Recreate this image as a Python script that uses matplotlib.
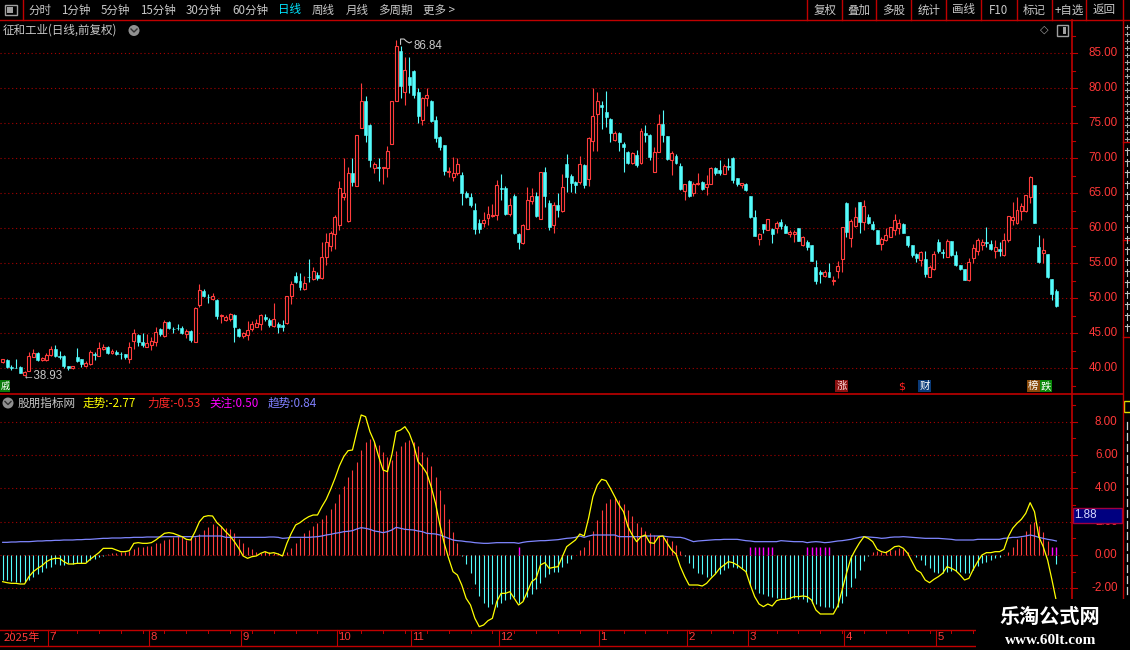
import numpy as np
import matplotlib
matplotlib.use("Agg")
import matplotlib.pyplot as plt
from matplotlib.patches import Rectangle, Ellipse
from matplotlib.lines import Line2D
from matplotlib.transforms import blended_transform_factory

plt.rcParams['font.family'] = ['Noto Sans CJK SC', 'DejaVu Sans']

# ----------------------------------------
# data (daily candles, 242 bars)
# ----------------------------------------
OPEN = [
    40.9, 41.2, 40.2, 40.1, 40.2, 39.1, 39.65, 41.6, 42.2, 41.2,
    41.2, 41.9, 42.8, 41.8, 41.8, 40.3, 40.0, 41.6, 41.3, 40.4,
    40.6, 42.05, 41.8, 42.8, 43.0, 42.2, 42.35, 42.05, 42.0, 41.4,
    43.95, 44.75, 43.8, 43.1, 43.3, 43.8, 45.55, 44.6, 46.55, 45.65,
    45.8, 45.8, 44.85, 45.3, 43.8, 49.05, 51.1, 50.25, 49.85, 49.75,
    47.5, 46.9, 47.1, 47.6, 45.6, 44.65, 44.75, 45.6, 45.95, 46.4,
    47.4, 46.9, 46.05, 46.4, 46.2, 46.5, 50.3, 53.2, 52.5, 51.3,
    53.1, 52.7, 53.4, 52.85, 55.95, 57.5, 59.2, 60.5, 64.5, 61.0,
    67.85, 66.1, 74.4, 78.2, 74.75, 68.6, 68.7, 68.6, 68.6, 72.1,
    78.2, 85.3, 79.5, 81.6, 82.5, 79.4, 75.5, 78.6, 78.2, 75.5,
    73.0, 71.9, 68.1, 67.4, 67.85, 67.6, 65.1, 64.5, 62.6, 60.8,
    60.8, 61.5, 61.8, 61.9, 65.7, 65.8, 62.0, 64.6, 59.2, 57.95,
    59.9, 63.95, 64.65, 61.4, 68.0, 63.65, 60.5, 63.3, 62.5, 69.2,
    67.5, 66.6, 66.55, 69.05, 67.0, 72.5, 76.3, 77.6, 76.6, 75.6,
    72.6, 73.6, 72.0, 70.85, 69.3, 70.5, 69.3, 73.6, 73.35, 68.1,
    70.95, 74.85, 73.2, 69.75, 70.4, 68.95, 65.4, 66.75, 65.0, 66.35,
    66.6, 65.95, 66.4, 68.57, 68.3, 67.75, 68.9, 70.1, 67.15, 66.2,
    66.4, 64.6, 61.6, 58.5, 60.6, 59.75, 59.9, 60.0, 60.9, 60.4,
    59.2, 59.15, 60.0, 57.6, 58.1, 57.6, 54.5, 53.7, 53.2, 53.75,
    52.45, 53.95, 55.6, 63.6, 58.6, 60.35, 63.8, 60.95, 61.6, 60.6,
    59.7, 57.75, 58.3, 58.8, 59.7, 60.0, 60.6, 58.9, 57.6, 56.4,
    55.5, 55.6, 53.1, 54.2, 58.0, 56.55, 55.95, 58.2, 56.2, 54.75,
    54.2, 52.6, 55.8, 56.8, 57.6, 58.0, 57.75, 56.75, 57.05, 56.2,
    58.3, 61.2, 60.7, 62.5, 62.5, 64.5, 66.2, 57.4, 56.5, 56.4,
    52.7, 51.05,
]
HIGH = [
    41.4, 41.4, 40.5, 41.3, 40.4, 39.6, 42.3, 42.8, 42.4, 41.6,
    42.2, 43.2, 43.3, 42.5, 41.9, 40.3, 40.4, 42.85, 41.4, 41.0,
    42.6, 42.4, 43.7, 43.5, 43.2, 42.8, 42.6, 42.4, 42.1, 43.7,
    45.6, 44.9, 45.0, 44.9, 44.5, 45.85, 45.7, 46.9, 46.8, 45.95,
    46.3, 46.0, 45.6, 45.5, 48.7, 52.1, 51.3, 50.6, 50.7, 49.85,
    47.75, 47.6, 47.85, 47.75, 45.7, 45.2, 46.7, 46.8, 47.1, 47.75,
    47.75, 47.15, 49.3, 46.65, 46.9, 50.4, 52.5, 53.7, 53.6, 53.2,
    55.57, 54.5, 53.7, 58.1, 59.3, 59.6, 61.9, 66.7, 70.0, 68.8,
    70.1, 73.3, 80.7, 78.9, 74.85, 69.5, 70.1, 68.8, 71.75, 78.2,
    86.84, 86.0, 84.5, 84.5, 82.6, 80.1, 78.8, 80.0, 78.3, 76.0,
    73.2, 71.9, 68.7, 70.2, 70.0, 68.1, 65.4, 65.1, 63.6, 61.4,
    62.4, 63.2, 63.5, 66.9, 67.8, 66.0, 64.3, 64.9, 59.4, 60.6,
    65.95, 65.7, 65.2, 68.0, 68.8, 64.0, 63.8, 65.1, 67.75, 70.6,
    67.75, 66.7, 70.3, 69.2, 73.0, 80.0, 79.5, 78.2, 79.6, 75.7,
    73.9, 73.7, 72.3, 71.1, 70.95, 71.2, 74.4, 74.75, 73.5, 71.6,
    76.3, 76.9, 73.2, 71.1, 70.6, 69.4, 66.4, 66.9, 66.6, 67.95,
    66.7, 67.6, 68.7, 68.7, 69.8, 69.2, 70.0, 70.2, 67.15, 66.4,
    66.5, 64.6, 62.6, 59.3, 60.6, 61.4, 60.0, 61.1, 61.4, 60.6,
    59.75, 59.75, 60.1, 58.9, 58.4, 57.6, 55.5, 54.05, 54.05, 55.0,
    53.2, 55.4, 60.2, 63.7, 61.3, 63.1, 63.8, 64.05, 62.05, 61.1,
    59.75, 58.8, 60.0, 60.15, 62.05, 61.3, 60.7, 58.9, 57.6, 56.5,
    56.7, 56.7, 54.75, 56.7, 58.5, 57.0, 58.5, 58.2, 56.75, 54.75,
    54.2, 55.7, 57.75, 58.6, 58.5, 60.15, 58.3, 58.4, 58.1, 59.3,
    61.75, 63.7, 64.5, 63.6, 64.75, 67.5, 66.2, 59.05, 58.6, 56.4,
    52.7, 51.4,
]
LOW = [
    40.8, 40.1, 39.7, 40.0, 39.4, 38.93, 39.6, 41.6, 41.1, 41.1,
    41.1, 41.8, 41.6, 41.4, 40.1, 39.8, 39.95, 40.85, 40.2, 40.2,
    40.5, 41.2, 41.7, 42.6, 42.0, 42.1, 41.9, 41.3, 41.4, 40.7,
    42.7, 43.2, 43.0, 43.0, 42.6, 43.2, 44.6, 44.5, 45.6, 45.0,
    45.5, 44.9, 44.4, 43.8, 43.8, 48.7, 50.2, 49.4, 49.8, 47.1,
    46.5, 46.8, 46.8, 43.8, 44.5, 44.4, 44.0, 45.3, 45.85, 45.5,
    46.7, 45.95, 45.95, 45.1, 45.3, 46.4, 49.2, 52.15, 51.2, 51.2,
    52.4, 52.6, 52.6, 52.7, 54.7, 56.7, 57.0, 59.7, 64.0, 60.95,
    66.0, 66.0, 74.3, 72.4, 68.7, 67.95, 66.7, 66.3, 67.4, 72.0,
    78.2, 78.6, 77.6, 79.3, 78.6, 75.0, 74.8, 77.5, 75.2, 72.4,
    71.2, 67.6, 67.4, 66.7, 67.6, 63.3, 64.3, 63.1, 59.15, 59.3,
    60.2, 60.5, 61.65, 61.2, 64.0, 61.9, 61.75, 59.2, 57.1, 57.8,
    59.85, 63.5, 61.65, 61.4, 63.1, 59.75, 59.4, 61.65, 62.4, 65.2,
    65.2, 65.1, 66.4, 65.7, 66.05, 71.1, 71.1, 74.2, 74.5, 72.4,
    72.5, 71.1, 68.1, 69.2, 69.2, 68.7, 69.2, 72.4, 69.75, 68.0,
    70.85, 72.4, 69.75, 67.6, 69.2, 65.5, 64.05, 64.5, 64.65, 66.2,
    65.5, 64.8, 66.3, 67.6, 67.6, 67.7, 68.3, 66.5, 66.1, 65.8,
    65.3, 61.5, 58.9, 57.6, 59.4, 59.7, 57.9, 59.4, 59.9, 59.3,
    58.8, 58.1, 58.15, 57.5, 56.9, 55.3, 52.05, 52.15, 53.0, 53.0,
    51.9, 52.85, 53.7, 58.7, 57.4, 60.15, 59.3, 59.7, 60.6, 59.75,
    57.7, 56.9, 58.2, 58.7, 59.05, 59.2, 59.3, 57.4, 55.95, 55.2,
    54.6, 53.1, 53.0, 54.05, 56.5, 55.7, 55.85, 56.1, 54.6, 54.05,
    52.6, 52.5, 55.0, 56.2, 56.9, 57.4, 56.9, 55.7, 56.1, 56.1,
    58.1, 60.5, 60.6, 61.2, 62.3, 63.6, 60.7, 55.0, 55.1, 52.85,
    49.7, 48.8,
]
CLOSE = [
    41.3, 40.2, 40.1, 40.0, 39.4, 39.5, 41.75, 42.2, 41.2, 41.5,
    41.9, 42.8, 41.8, 41.6, 40.3, 40.0, 40.4, 41.0, 40.6, 40.8,
    42.4, 41.9, 42.85, 43.1, 42.2, 42.45, 42.0, 42.0, 41.6, 43.0,
    45.0, 43.8, 43.3, 43.65, 43.9, 45.2, 44.9, 46.55, 45.7, 45.6,
    45.75, 45.1, 45.3, 44.05, 48.6, 51.2, 50.3, 50.2, 50.4, 47.5,
    47.6, 47.4, 47.75, 45.95, 44.65, 45.0, 45.45, 46.4, 46.5, 47.6,
    47.0, 46.2, 47.0, 45.85, 45.85, 50.3, 52.1, 52.3, 51.6, 52.25,
    53.05, 53.9, 52.85, 55.95, 58.0, 59.3, 61.6, 65.7, 65.1, 67.85,
    66.65, 73.3, 78.2, 73.3, 69.75, 69.2, 68.65, 68.8, 71.05, 78.2,
    86.05, 80.4, 82.6, 80.5, 79.05, 76.05, 78.6, 79.05, 75.4, 72.85,
    71.6, 68.2, 68.25, 67.85, 69.2, 65.1, 64.5, 63.3, 59.85, 59.9,
    61.2, 62.1, 61.9, 66.2, 65.6, 62.0, 63.3, 59.4, 58.05, 60.5,
    64.05, 64.6, 61.75, 68.0, 64.65, 60.15, 63.3, 62.6, 65.85, 67.4,
    66.5, 66.2, 69.2, 66.2, 72.85, 76.05, 78.2, 77.4, 75.95, 73.6,
    73.6, 72.3, 71.6, 69.4, 70.7, 69.05, 73.9, 73.35, 70.2, 70.85,
    74.85, 73.35, 69.9, 70.7, 69.4, 65.6, 66.3, 64.65, 66.4, 66.45,
    65.65, 66.3, 68.57, 67.85, 67.85, 68.9, 68.8, 66.9, 66.3, 66.4,
    65.5, 61.6, 58.95, 59.2, 59.85, 61.3, 59.2, 60.7, 60.4, 59.4,
    59.45, 59.5, 58.25, 58.7, 57.3, 55.4, 52.5, 53.5, 53.7, 53.1,
    52.6, 54.6, 60.15, 59.5, 61.05, 61.6, 60.95, 63.2, 60.7, 59.85,
    57.75, 58.5, 59.05, 60.15, 61.2, 60.7, 59.4, 57.6, 56.2, 55.7,
    56.6, 53.5, 54.5, 56.3, 56.7, 56.45, 58.2, 56.2, 54.75, 54.2,
    52.6, 55.15, 57.15, 58.3, 58.0, 57.85, 57.0, 57.3, 56.8, 58.3,
    61.75, 61.6, 62.6, 63.2, 64.75, 67.3, 60.7, 55.25, 56.9, 53.0,
    50.6, 48.95,
]

# 力度 histogram
LIDU = [
    -1.5, -1.5, -1.55, -1.6, -1.6, -1.6, -1.5, -1.3, -1.15, -1.0,
    -0.8, -0.7, -0.55, -0.6, -0.6, -0.5, -0.55, -0.5, -0.45, -0.4,
    -0.3, -0.25, -0.1, -0.05, 0.03, 0.1, 0.14, 0.2, 0.16, 0.26,
    0.34, 0.46, 0.5, 0.54, 0.54, 0.7, 0.74, 0.9, 0.96, 1.1,
    1.14, 1.06, 0.9, 1.0, 1.06, 1.24, 1.5, 1.66, 1.86, 1.74,
    1.74, 1.6, 1.54, 1.34, 0.94, 0.7, 0.5, 0.34, 0.2, 0.14,
    0.26, 0.2, 0.14, 0.14, 0.06, 0.2, 0.4, 0.74, 1.0, 1.3,
    1.5, 1.74, 1.9, 2.14, 2.4, 2.74, 3.14, 3.66, 4.14, 4.66,
    5.1, 5.6, 6.3, 6.8, 6.94, 6.8, 6.6, 6.2, 5.9, 5.7,
    6.26, 6.54, 6.8, 6.9, 6.8, 6.54, 6.2, 5.86, 5.34, 4.7,
    3.9, 3.06, 2.16, 1.4, 0.7, -0.05, -0.54, -1.1, -1.74, -2.46,
    -2.86, -3.14, -2.94, -3.14, -2.9, -2.7, -2.64, -2.5, -2.9, -2.7,
    -2.54, -2.34, -2.06, -1.66, -1.3, -1.14, -1.0, -1.0, -0.7, -0.5,
    -0.24, 0.02, 0.3, 0.5, 0.9, 1.44, 2.1, 2.7, 3.1, 3.34,
    3.5, 3.3, 3.06, 2.7, 2.34, 1.9, 1.66, 1.46, 1.34, 1.2,
    1.14, 1.14, 1.0, 0.86, 0.6, 0.26, -0.06, -0.46, -0.8, -1.06,
    -1.14, -1.34, -1.26, -1.1, -1.14, -0.9, -0.8, -0.7, -0.8, -0.8,
    -1.0, -1.8, -2.06, -2.3, -2.34, -2.46, -2.5, -2.6, -2.6, -2.66,
    -2.66, -2.6, -2.66, -2.66, -2.8, -2.9, -2.94, -3.06, -3.1, -3.14,
    -3.2, -3.14, -2.9, -2.46, -1.9, -1.4, -0.9, -0.34, -0.04, 0.2,
    0.26, 0.2, 0.26, 0.3, 0.3, 0.4, 0.34, 0.2, -0.02, -0.14,
    -0.3, -0.6, -0.8, -1.0, -1.1, -1.1, -1.0, -0.94, -0.94, -1.0,
    -1.1, -1.06, -0.9, -0.66, -0.5, -0.4, -0.3, -0.2, -0.1, 0.02,
    0.2, 0.5, 0.94, 1.1, 1.44, 1.86, 2.0, 1.74, 1.4, 0.86,
    0.05, -0.53,
]

# 走势 line (yellow)
ZOUSHI = [
    -1.6, -1.66, -1.7, -1.7, -1.74, -1.74, -1.3, -1.0, -0.8, -0.64,
    -0.4, -0.26, -0.2, -0.2, -0.4, -0.54, -0.54, -0.5, -0.5, -0.5,
    -0.26, -0.06, 0.14, 0.4, 0.4, 0.4, 0.3, 0.2, 0.2, 0.26,
    0.7, 0.74, 0.7, 0.7, 0.74, 0.9, 1.1, 1.3, 1.34, 1.3,
    1.2, 1.1, 0.94, 0.9, 1.4, 2.0, 2.3, 2.36, 2.34, 1.94,
    1.7, 1.4, 1.14, 0.8, 0.4, -0.06, -0.2, -0.1, -0.06, 0.1,
    0.2, 0.1, 0.14, 0.06, -0.06, 0.7, 1.3, 1.8, 1.94, 2.14,
    2.3, 2.4, 2.4, 2.9, 3.34, 3.94, 4.6, 5.34, 5.9, 6.26,
    6.3, 7.4, 8.4, 8.3, 7.4, 6.8, 5.9, 5.1, 5.0, 6.0,
    7.4, 7.5, 7.7, 7.3, 6.6, 5.6, 5.3, 4.9, 4.1, 3.1,
    1.8, 0.7, -0.2, -1.0, -1.2, -1.8, -2.6, -3.0, -3.8, -4.3,
    -4.2, -3.94, -3.8, -2.8, -2.3, -2.3, -2.2, -2.6, -3.0, -2.8,
    -2.2, -1.6, -1.4, -0.6, -0.46, -0.8, -0.74, -0.7, -0.1, 0.5,
    0.7, 0.9, 1.26, 1.14, 2.2, 3.5, 4.2, 4.54, 4.46, 4.0,
    3.5, 3.0, 2.6, 1.7, 1.2, 0.8, 1.1, 1.2, 0.74, 0.7,
    1.1, 1.14, 0.7, 0.3, 0.06, -0.7, -1.3, -1.8, -1.8, -1.8,
    -1.86, -1.7, -1.4, -1.14, -0.8, -0.6, -0.4, -0.46, -0.6, -0.8,
    -1.0, -1.8, -2.5, -2.94, -3.1, -2.94, -3.06, -2.74, -2.66, -2.66,
    -2.6, -2.5, -2.5, -2.46, -2.5, -2.7, -3.3, -3.54, -3.54, -3.54,
    -3.54, -3.06, -2.1, -1.1, -0.2, 0.3, 0.74, 1.1, 1.0, 0.8,
    0.34, 0.2, 0.14, 0.3, 0.5, 0.54, 0.4, 0.1, -0.4, -0.9,
    -1.06, -1.5, -1.66, -1.46, -1.3, -1.1, -0.7, -0.8, -0.94, -1.2,
    -1.5, -1.4, -0.86, -0.4, 0.0, 0.14, 0.14, 0.2, 0.2, 0.34,
    1.1, 1.6, 1.9, 2.14, 2.5, 3.14, 2.6, 1.1, 0.5, -0.3,
    -1.5, -2.77,
]

# 趋势 line (blue)
QUSHI = [
    0.76, 0.76, 0.78, 0.78, 0.8, 0.8, 0.8, 0.82, 0.84, 0.84,
    0.86, 0.86, 0.88, 0.88, 0.9, 0.9, 0.9, 0.92, 0.92, 0.94,
    0.94, 0.96, 0.98, 1.0, 1.0, 1.02, 1.02, 1.02, 1.04, 1.04,
    1.06, 1.06, 1.06, 1.08, 1.08, 1.08, 1.08, 1.1, 1.1, 1.1,
    1.1, 1.1, 1.1, 1.1, 1.1, 1.14, 1.14, 1.14, 1.14, 1.14,
    1.14, 1.06, 1.06, 1.06, 1.06, 1.06, 1.06, 1.06, 1.06, 1.06,
    1.06, 1.08, 1.08, 1.06, 1.0, 1.02, 1.06, 1.06, 1.06, 1.06,
    1.06, 1.08, 1.1, 1.14, 1.2, 1.24, 1.3, 1.34, 1.4, 1.42,
    1.46, 1.56, 1.64, 1.6, 1.54, 1.44, 1.4, 1.34, 1.4, 1.5,
    1.66, 1.6, 1.54, 1.52, 1.5, 1.44, 1.4, 1.3, 1.28, 1.26,
    1.2, 1.1, 1.0, 0.9, 0.86, 0.84, 0.8, 0.78, 0.74, 0.72,
    0.7, 0.7, 0.72, 0.74, 0.74, 0.74, 0.74, 0.74, 0.7, 0.76,
    0.8, 0.82, 0.84, 0.86, 0.86, 0.88, 0.9, 0.92, 0.96, 1.0,
    1.02, 1.06, 1.14, 1.06, 1.14, 1.2, 1.2, 1.2, 1.2, 1.2,
    1.2, 1.1, 1.1, 1.1, 1.1, 1.1, 1.1, 1.14, 1.14, 1.14,
    1.14, 1.14, 1.1, 1.08, 1.06, 1.06, 1.0, 0.9, 0.8, 0.84,
    0.86, 0.88, 0.9, 0.92, 0.92, 0.94, 0.94, 0.94, 0.94, 0.9,
    0.86, 0.84, 0.8, 0.8, 0.8, 0.8, 0.8, 0.8, 0.86, 0.84,
    0.82, 0.8, 0.8, 0.8, 0.74, 0.78, 0.8, 0.78, 0.74, 0.76,
    0.8, 0.84, 0.86, 0.9, 0.94, 1.0, 1.06, 1.1, 1.08, 1.06,
    1.04, 1.0, 1.02, 1.06, 1.08, 1.08, 1.1, 1.08, 1.06, 1.04,
    1.02, 1.0, 1.0, 1.0, 1.0, 0.98, 0.96, 0.94, 0.9, 0.9,
    0.9, 0.9, 0.9, 0.94, 0.94, 0.94, 0.94, 0.94, 0.94, 1.0,
    1.02, 1.06, 1.06, 1.1, 1.14, 1.2, 1.14, 1.06, 1.0, 0.94,
    0.9, 0.84,
]

# 关注 markers (value 0.50) at these bars
GUANZHU_IDX = [118, 171, 172, 173, 174, 175, 176, 184, 185, 186, 187, 188, 189, 240, 241]
GUANZHU_VAL = 0.50

MONTH_LABELS = ['7', '8', '9', '10', '11', '12', '1', '2', '3', '4', '5']
MONTH_START = [11, 34, 55, 77, 94, 114, 137, 157, 171, 193, 214]

PRICE_TICKS = [40, 45, 50, 55, 60, 65, 70, 75, 80, 85]
IND_TICKS = [-2, 0, 2, 4, 6, 8]

# ----------------------------------------
# colours / layout
# ----------------------------------------
W, H = 1130, 650
PLOT_R = 1072
RED_LINE = '#C00000'
GRID_RED = '#A80000'
TICK_RED = '#FF3838'
C_RED = '#FF3C3C'
C_CYAN = '#54FCFC'
GRAY = '#C8C8C8'
NUM_FONT = 'Liberation Sans'

fig = plt.figure(figsize=(W / 100, H / 100), dpi=100, facecolor='black')


def fx(px):
    return px / W


def fy(py):
    return 1 - py / H


def fline(xs, ys, **kw):
    fig.add_artist(Line2D([fx(x) for x in xs], [fy(y) for y in ys], **kw))


def frect(x0, y0, x1, y1, **kw):
    fig.add_artist(Rectangle((fx(x0), fy(y1)), fx(x1) - fx(x0), fy(y0) - fy(y1),
                             transform=fig.transFigure, **kw))


def ftext(px, py, s, **kw):
    kw.setdefault('va', 'center')
    fig.text(fx(px), fy(py), s, **kw)


X0, DX = 2.7, 4.372
XLIM = ((0 - X0) / DX, (PLOT_R - X0) / DX)

ax1 = fig.add_axes([0, fy(393), fx(PLOT_R), fy(20) - fy(393)])
ax2 = fig.add_axes([0, fy(630), fx(PLOT_R), fy(394) - fy(630)])
for ax in (ax1, ax2):
    ax.set_facecolor('black')
    for s in ax.spines.values():
        s.set_visible(False)
    ax.set_xticks([])
    ax.set_yticks([])

# ----------------------------------------
# price panel
# ----------------------------------------
o = np.array(OPEN)
h = np.array(HIGH)
l = np.array(LOW)
c = np.array(CLOSE)
idx = np.arange(len(c))
up = c >= o

for v in PRICE_TICKS:
    ax1.axhline(v, color=GRID_RED, lw=0.8, ls=(0, (1, 2.5)), zorder=1)

ax1.vlines(idx[up], l[up], o[up], color=C_RED, lw=0.8, zorder=2)
ax1.vlines(idx[up], c[up], h[up], color=C_RED, lw=0.8, zorder=2)
ax1.vlines(idx[~up], l[~up], h[~up], color=C_CYAN, lw=0.8, zorder=2)
ax1.bar(idx[up], (c - o)[up], bottom=o[up], width=0.68, facecolor='black',
        edgecolor=C_RED, linewidth=0.8, zorder=3)
ax1.bar(idx[~up], (o - c)[~up], bottom=c[~up], width=0.68, facecolor=C_CYAN,
        edgecolor=C_CYAN, linewidth=0.4, zorder=3)

ax1.set_xlim(*XLIM)
ax1.set_ylim(85 - (393 - 53.3) / 7, 85 + (53.3 - 20) / 7)

b1 = blended_transform_factory(ax1.transAxes, ax1.transData)
for v in PRICE_TICKS:
    ax1.plot([1, 1077 / PLOT_R], [v, v], transform=b1, color=RED_LINE, lw=0.8, clip_on=False)
    ax1.text(1117.5 / PLOT_R, v, f"{v:.2f}", transform=b1, ha='right', va='center',
             color=TICK_RED, fontsize=8.4, family=NUM_FONT)
for v in np.arange(37.5, 88, 5):
    ax1.plot([1, 1075 / PLOT_R], [v, v], transform=b1, color=RED_LINE, lw=0.8, clip_on=False)

# max / min labels
imax = int(np.argmax(h))
imin = int(np.argmin(l))
ax1.plot([imax + 1.0, imax + 1.0, imax + 1.8, imax + 2.4, imax + 3.0, imax + 3.5],
         [h[imax] - 0.55, h[imax] + 0.2, h[imax] + 0.2, h[imax] - 0.15, h[imax] - 0.35, h[imax] - 0.2],
         color=GRAY, lw=0.8, zorder=4)
ax1.text(imax + 4.0, h[imax] - 0.75, f"{h[imax]:.2f}", color=GRAY, fontsize=8.3,
         family=NUM_FONT, va='center', ha='left')
ax1.text(imin - 0.4, l[imin], f"\u2190{l[imin]:.2f}", color=GRAY, fontsize=8.3,
         family=['Liberation Sans', 'DejaVu Sans'], va='center', ha='left')

# ----------------------------------------
# indicator panel
# ----------------------------------------
hist = np.array(LIDU)
for v in IND_TICKS:
    ax2.axhline(v, color=GRID_RED, lw=0.8, ls=(0, (1, 2.5)), zorder=1)
pos = hist >= 0
ax2.vlines(idx[pos], 0, hist[pos], color=C_RED, lw=0.8, zorder=2)
ax2.vlines(idx[~pos], 0, hist[~pos], color=C_CYAN, lw=0.8, zorder=2)
ax2.vlines(GUANZHU_IDX, 0, GUANZHU_VAL, color='#FF00FF', lw=1.0, zorder=3)
ax2.plot(idx, QUSHI, color='#7F86FF', lw=0.9, zorder=4)
ax2.plot(idx, ZOUSHI, color='#FFFF00', lw=0.9, zorder=5)
ax2.set_xlim(*XLIM)
ax2.set_ylim((555 - 630) / 16.667, (555 - 394) / 16.667)

b2 = blended_transform_factory(ax2.transAxes, ax2.transData)
for v in IND_TICKS:
    ax2.plot([1, 1077 / PLOT_R], [v, v], transform=b2, color=RED_LINE, lw=0.8, clip_on=False)
    ax2.text(1117.5 / PLOT_R, v, f"{v:.2f}", transform=b2, ha='right', va='center',
             color=TICK_RED, fontsize=8.4, family=NUM_FONT)
for v in [-1, 1, 3, 5, 7, 9]:
    ax2.plot([1, 1075 / PLOT_R], [v, v], transform=b2, color=RED_LINE, lw=0.8, clip_on=False)

# date strip under the indicator
bd = blended_transform_factory(ax2.transData, fig.transFigure)
ax2.text(XLIM[0] + 0.9, fy(637.5), '2025年', transform=bd, color=TICK_RED, fontsize=8.2,
         ha='left', va='center')
for i, lab in zip(MONTH_START, MONTH_LABELS):
    ax2.plot([i - 0.55, i - 0.55], [fy(630), fy(645)], transform=bd, color=RED_LINE,
             lw=0.8, clip_on=False)
    ax2.text(i - 0.25, fy(637.5), lab, transform=bd, color=TICK_RED, fontsize=8.2,
             family=NUM_FONT, ha='left', va='center')
for i in range(2, 242, 5):
    ax2.plot([i, i], [fy(630), fy(633)], transform=bd, color=RED_LINE, lw=0.7, clip_on=False)

# ----------------------------------------
# frame lines
# ----------------------------------------
fline([0, W], [20, 20], color=RED_LINE, lw=1.0)
fline([23, 23], [0, 20], color=RED_LINE, lw=1.0)
fline([PLOT_R, PLOT_R], [20, 630], color=RED_LINE, lw=1.2)
fline([1122.5, 1122.5], [20, 650], color=RED_LINE, lw=1.0)
fline([0, 1122.5], [394, 394], color=RED_LINE, lw=1.2)
fline([0, PLOT_R], [630, 630], color=RED_LINE, lw=1.0)
fline([0, PLOT_R], [645.5, 645.5], color=RED_LINE, lw=1.0)

# ----------------------------------------
# toolbar
# ----------------------------------------
frect(5, 5, 17, 15, facecolor='none', edgecolor='#A0A0A0', lw=1.0)
frect(7, 7, 12.5, 13, facecolor='#A0A0A0', edgecolor='none')

tool_left = [('分时', 28), ('1分钟', 61), ('5分钟', 101), ('15分钟', 140), ('30分钟', 186),
             ('60分钟', 232), ('日线', 278), ('周线', 312), ('月线', 346), ('多周期', 378),
             ('更多 >', 423)]
for s, x in tool_left:
    ftext(x, 10, s, color='#00E5FF' if s == '日线' else GRAY, fontsize=8.3, ha='left')

seps = [807.5, 841.8, 876.3, 911.3, 946.3, 981.2, 1016.5, 1051.5, 1086.4, 1122.5]
btns = ['复权', '叠加', '多股', '统计', '画线', 'F10', '标记', '+自选', '返回']
for s in seps:
    fline([s, s], [0, 20], color=RED_LINE, lw=1.0)
for a, b, s in zip(seps[:-1], seps[1:], btns):
    ftext((a + b) / 2, 10, s, color=GRAY, fontsize=8.3, ha='center')

# title + icons
ftext(3, 30.5, '征和工业(日线,前复权)', color=GRAY, fontsize=8.3, ha='left')
fig.add_artist(Ellipse((fx(134), fy(30.5)), 11 / W, 11 / H, transform=fig.transFigure,
                       facecolor='#909090', edgecolor='none'))
fline([131, 134, 137], [29, 32, 29], color='#303030', lw=1.0)
ftext(1044.5, 30, '\u25c7', color='#A0A0A0', fontsize=8, ha='center', family='DejaVu Sans')
frect(1057, 25.5, 1068, 36, facecolor='none', edgecolor='#A0A0A0', lw=1.0)
frect(1063, 27.5, 1066, 34, facecolor='#A0A0A0', edgecolor='none')

# legend of indicator
fig.add_artist(Ellipse((fx(8), fy(403)), 11 / W, 11 / H, transform=fig.transFigure,
                       facecolor='#909090', edgecolor='none'))
fline([5, 8, 11], [401.5, 404.5, 401.5], color='#303030', lw=1.0)
legend_items = [
    ('股朋指标网', 18, GRAY),
    (f'走势:{ZOUSHI[-1]:.2f}', 83, '#FFFF00'),
    (f'力度:{LIDU[-1]:.2f}', 147, '#FF2828'),
    (f'关注:{GUANZHU_VAL:.2f}', 209, '#FF00FF'),
    (f'趋势:{QUSHI[-1]:.2f}', 268, '#8080FF'),
]
for s, x, col in legend_items:
    ftext(x, 403, s, color=col, fontsize=8.4, ha='left')


# event badges at bottom of price panel
def badge(x0, x1, ch, bg, fg='white', size=7.5):
    frect(x0, 380, x1, 392, facecolor=bg, edgecolor='none')
    ftext((x0 + x1) / 2, 386, ch, color=fg, fontsize=size, ha='center')


badge(0, 10, '戚', '#0A7A0A', size=6.5)
badge(835, 848, '涨', '#8A1010', '#FFD8D8')
ftext(902, 386.5, '$', color='#FF2020', fontsize=8, ha='center', family='DejaVu Sans')
badge(918, 931, '财', '#0A3A78')
badge(1027, 1039.5, '榜', '#8A4A0A')
badge(1039.5, 1052, '跌', '#0A8A0A')

# value box on indicator axis
frect(1073, 508, 1122, 523, facecolor='#000080', edgecolor='#A00040', lw=1.0)
ftext(1074.5, 515.5, '1.88', color='#D8D8FF', fontsize=8.4, ha='left', family=NUM_FONT)

# clipped side panel at the far right (only glyph fragments visible)
for yy in range(27, 140, 7):
    fline([1124.5, 1129], [yy, yy], color='#A8A8A8', lw=0.8)
    fline([1126.5, 1126.5], [yy - 2, yy + 2], color='#A8A8A8', lw=0.8)
for yy in [142, 240, 337]:
    fline([1122.5, W], [yy, yy], color=RED_LINE, lw=1.0)
for yy in range(152, 336, 11):
    fline([1125, 1130], [yy - 2, yy - 2], color='#C0C0C0', lw=0.8)
    fline([1127, 1127], [yy - 4, yy + 3], color='#C0C0C0', lw=0.8)
frect(1124, 401, 1131, 412, facecolor='none', edgecolor='#E0E000', lw=1.0)
for yy in range(425, 600, 11):
    fline([1127, 1127], [yy - 3.5, yy + 3.5], color='#D0D0D0', lw=0.9)

# watermark
frect(976, 599, W, H, facecolor='black', edgecolor='none', zorder=10)
ftext(1050, 616, '乐淘公式网', color='white', fontsize=14.5, weight='bold', ha='center', zorder=11)
ftext(1051, 640.5, 'www.60lt.com', color='white', fontsize=11, weight='bold', ha='center',
      family='Liberation Serif', zorder=11)

fig.savefig('out.png', dpi=100, facecolor='black')
